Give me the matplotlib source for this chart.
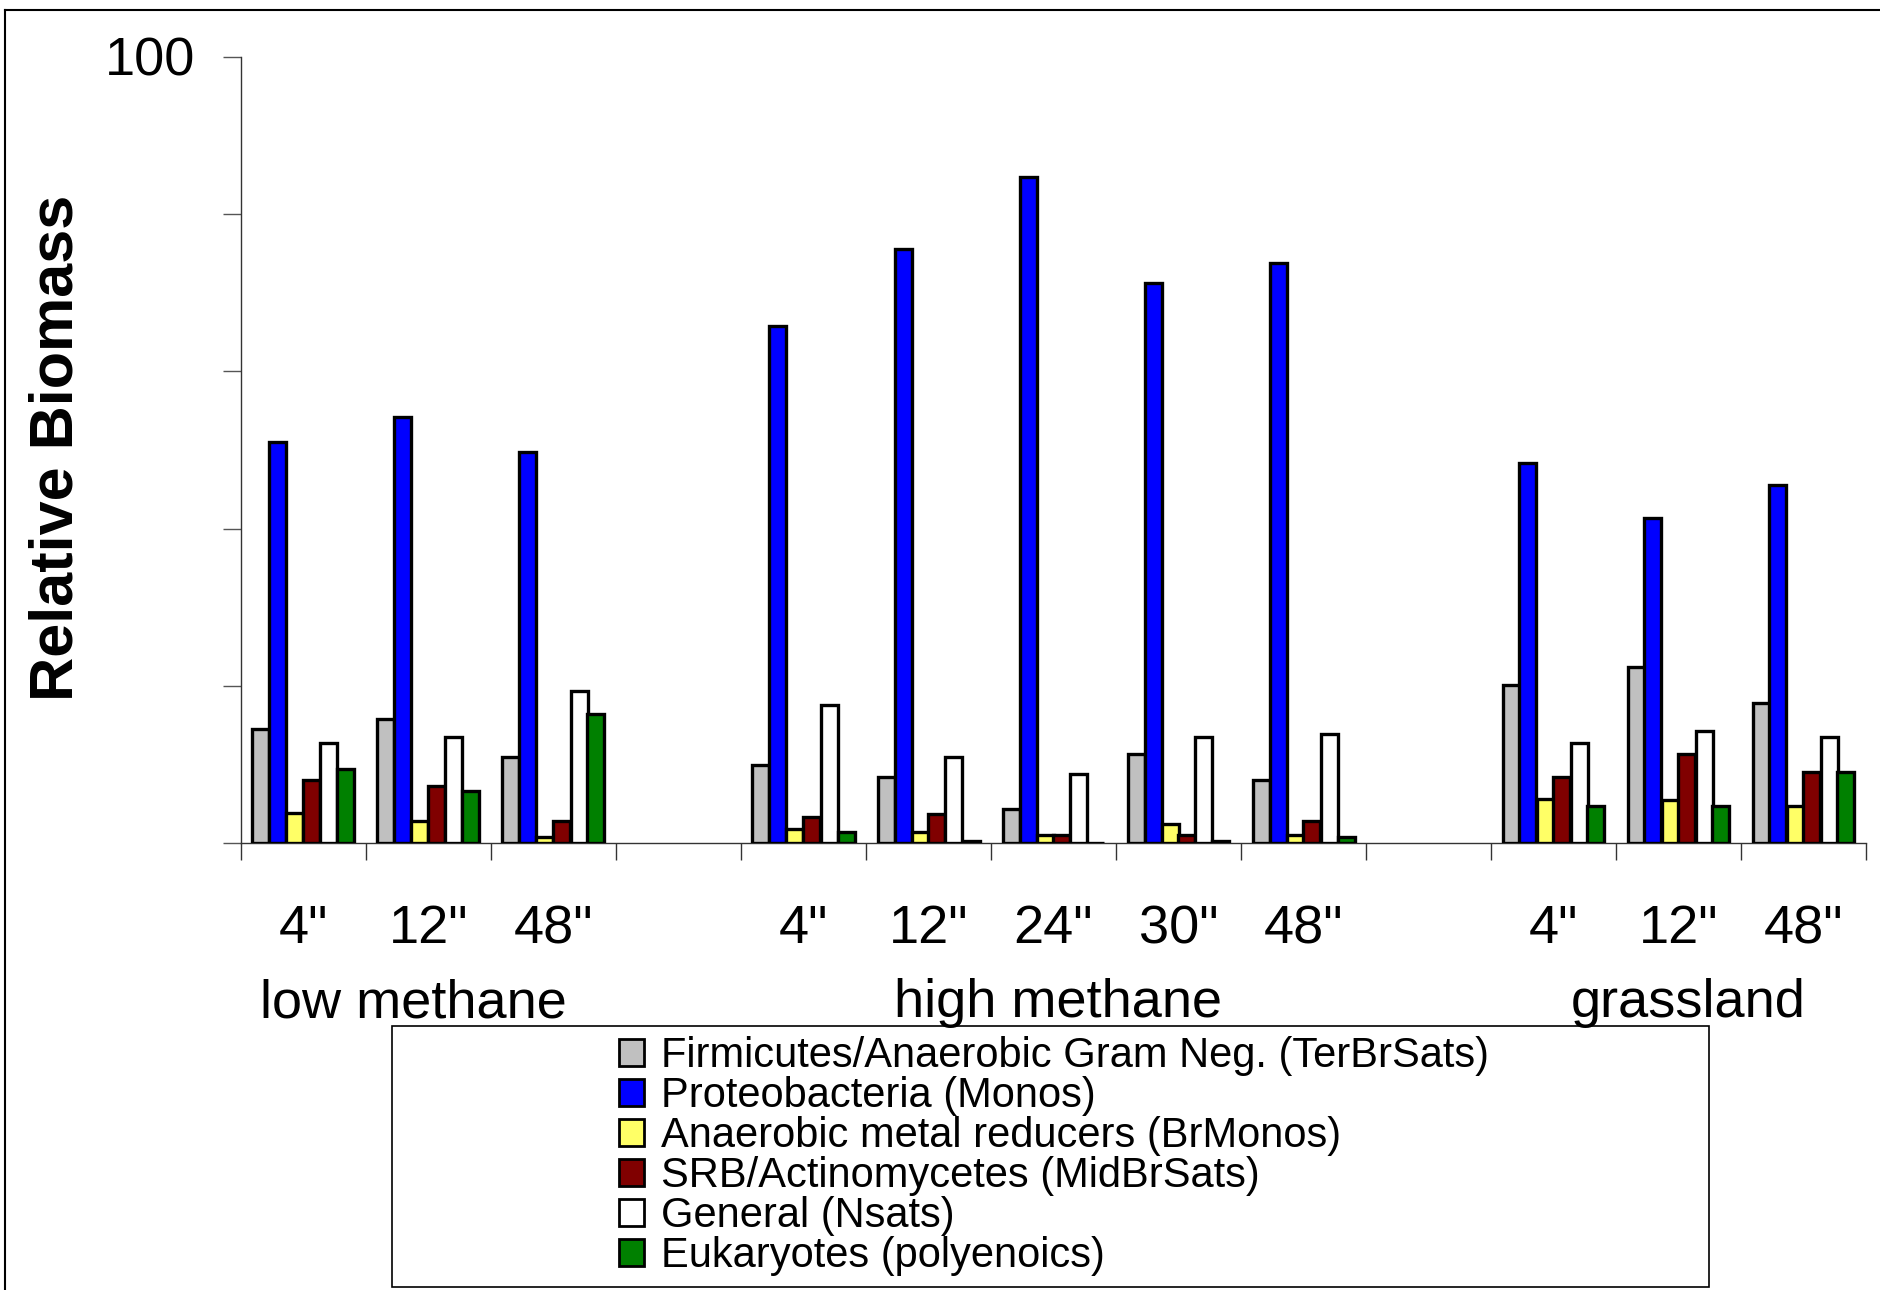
import matplotlib
matplotlib.use("Agg")
import matplotlib.pyplot as plt
import matplotlib.transforms as mtransforms
from matplotlib.patches import Patch
from matplotlib.lines import Line2D
import numpy as np

plt.rcParams['font.family'] = ['Liberation Sans', 'DejaVu Sans']

# ---- data ----
category_labels = ['4"', '12"', '48"', '', '4"', '12"', '24"', '30"', '48"', '', '4"', '12"', '48"']
group_labels = ['low methane', 'high methane', 'grassland']
group_label_x = [0.88, 6.04, 11.08]

series_names = [
    'Firmicutes/Anaerobic Gram Neg. (TerBrSats)',
    'Proteobacteria (Monos)',
    'Anaerobic metal reducers (BrMonos)',
    'SRB/Actinomycetes (MidBrSats)',
    'General (Nsats)',
    'Eukaryotes (polyenoics)',
]
series_colors = ['#C0C0C0', '#0000FF', '#FFFF66', '#800000', '#FFFFFF', '#008000']

# values for the 11 samples (non-empty categories, in order)
terbrsats = [14.6, 15.8, 11.0, 9.9, 8.4, 4.4, 11.3, 8.0, 20.1, 22.4, 17.9]
monos     = [51.0, 54.2, 49.8, 65.7, 75.6, 84.7, 71.2, 73.8, 48.4, 41.4, 45.6]
brmonos   = [3.9, 2.9, 0.8, 1.8, 1.5, 1.1, 2.5, 1.1, 5.7, 5.5, 4.7]
midbrsats = [8.1, 7.3, 2.9, 3.3, 3.7, 1.1, 1.1, 2.9, 8.4, 11.3, 9.1]
nsats     = [12.8, 13.5, 19.4, 17.6, 11.0, 8.8, 13.5, 13.9, 12.8, 14.3, 13.5]
polyenoics = [9.5, 6.6, 16.5, 1.5, 0.3, 0.0, 0.3, 0.8, 4.7, 4.7, 9.1]

series_values = [terbrsats, monos, brmonos, midbrsats, nsats, polyenoics]

# ---- figure ----
W, H = 1881, 1290
fig = plt.figure(figsize=(W / 100, H / 100), dpi=100)
ax = fig.add_axes([241 / W, 1 - 843.4 / H, (1866 - 241) / W, (843.4 - 56.5) / H])

sample_pos = np.array([i for i, lab in enumerate(category_labels) if lab != ''], dtype=float)
bw = 0.136
n = len(series_values)
for k, (vals, col) in enumerate(zip(series_values, series_colors)):
    ax.bar(sample_pos + (k - (n - 1) / 2) * bw, vals, width=bw, color=col,
           edgecolor='black', linewidth=2.4, zorder=3)

ax.set_xlim(-0.5, len(category_labels) - 0.5)
ax.set_ylim(0, 100)

for s in ['top', 'right']:
    ax.spines[s].set_visible(False)
ax.spines['left'].set_color('#333333')
ax.spines['left'].set_linewidth(1.0)
ax.spines['bottom'].set_color('#333333')
ax.spines['bottom'].set_linewidth(1.0)

ax.set_yticks([0, 20, 40, 60, 80, 100])
ax.set_yticklabels(['', '', '', '', '', '100'], fontsize=39)
ax.tick_params(axis='y', direction='out', length=13, width=1.0, color='#555555', pad=20)

ax.set_xticks(np.arange(-0.5, len(category_labels), 1.0))
ax.set_xticklabels([])
ax.tick_params(axis='x', direction='out', length=12.4, width=1.0, color='#333333')

trans = mtransforms.blended_transform_factory(ax.transData, ax.transAxes)
for i, lab in enumerate(category_labels):
    if lab:
        ax.text(i, -0.127, lab, transform=trans, ha='center', va='baseline', fontsize=39)
for x, lab in zip(group_label_x, group_labels):
    ax.text(x, -0.2207, lab, transform=trans, ha='center', va='baseline', fontsize=39)

fig.text(57 / W, 1 - 448 / H, 'Relative Biomass', rotation=90, ha='center', va='center',
         fontsize=44, fontweight='bold')

# legend box
fig.add_artist(plt.Rectangle((392 / W, 1 - 1287 / H), (1709 - 392) / W, (1287 - 1026) / H,
                             transform=fig.transFigure, fill=False, edgecolor='black',
                             linewidth=1.2))
handles = [Patch(facecolor=c, edgecolor='black', linewidth=2.0) for c in series_colors]
fig.legend(handles, series_names, loc='upper left',
           bbox_to_anchor=(619 / W, 1 - 1036 / H), frameon=False, fontsize=30,
           handlelength=0.6, handleheight=0.6, handletextpad=0.4, labelspacing=0.0,
           borderpad=0, borderaxespad=0)

# outer figure border (top and left edges visible)
fig.add_artist(Line2D([5 / W, 5 / W], [0, 1 - 10 / H], transform=fig.transFigure,
                      color='black', linewidth=1.5))
fig.add_artist(Line2D([5 / W, 1], [1 - 10 / H, 1 - 10 / H], transform=fig.transFigure,
                      color='black', linewidth=1.5))

fig.savefig('out.png', dpi=100)
